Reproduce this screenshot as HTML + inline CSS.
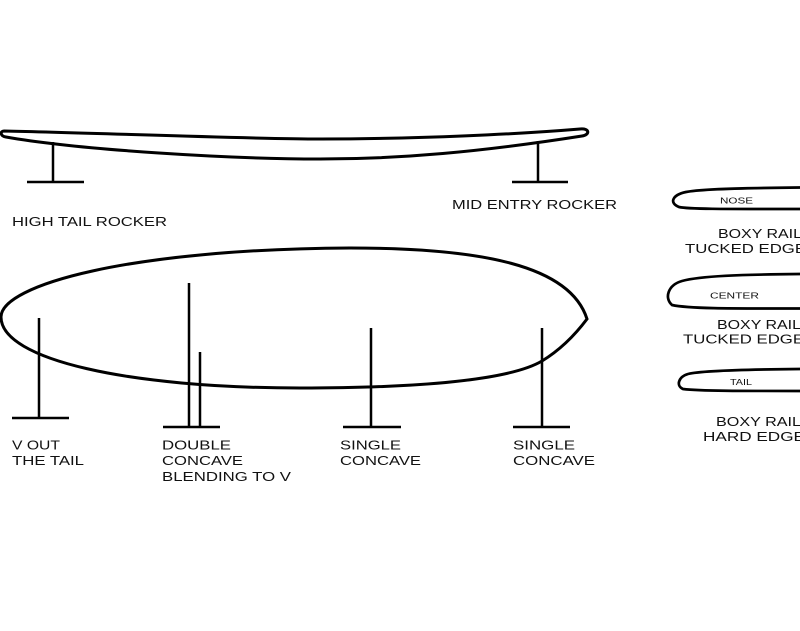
<!DOCTYPE html>
<html>
<head>
<meta charset="utf-8">
<style>
  html, body { margin: 0; padding: 0; background: #ffffff; }
  body { width: 800px; height: 631px; overflow: hidden; }
  svg { display: block; }
  text { font-family: "Liberation Sans", "DejaVu Sans", sans-serif; fill: #111; }
</style>
</head>
<body>
<svg width="800" height="631" viewBox="0 0 800 631" xmlns="http://www.w3.org/2000/svg">
  <rect x="0" y="0" width="800" height="631" fill="#ffffff"/>

  <!-- Rocker profile board -->
  <path d="M 4,131 C 100,133 250,139 320,139 C 420,139 520,134 580,129 C 590,128 590,135 582,136 C 480,152 400,159 320,159 C 230,159 80,150 6,137 C 0,136 0,131 4,131 Z"
        fill="none" stroke="#000" stroke-width="3" stroke-linejoin="round"/>
  <!-- stands -->
  <line x1="53" y1="142" x2="53" y2="182" stroke="#000" stroke-width="2.5"/>
  <line x1="27" y1="182" x2="84" y2="182" stroke="#000" stroke-width="2.5"/>
  <line x1="538" y1="141" x2="538" y2="182" stroke="#000" stroke-width="2.5"/>
  <line x1="512" y1="182" x2="568" y2="182" stroke="#000" stroke-width="2.5"/>

  <text x="12" y="226" font-size="12.5" textLength="155" lengthAdjust="spacingAndGlyphs">HIGH TAIL ROCKER</text>
  <text x="452" y="209" font-size="12.5" textLength="165" lengthAdjust="spacingAndGlyphs">MID ENTRY ROCKER</text>

  <!-- Bottom outline -->
  <path d="M 1,317 C 1,285 130,249 350,248 C 480,248 570,265 587,319 C 575,335 560,350 542,361 C 510,380 420,388 300,388 C 130,388 1,360 1,317 Z"
        fill="none" stroke="#000" stroke-width="3" stroke-linejoin="miter"/>

  <!-- V out the tail -->
  <line x1="39" y1="318" x2="39" y2="418" stroke="#000" stroke-width="2.5"/>
  <line x1="12" y1="418" x2="69" y2="418" stroke="#000" stroke-width="2.5"/>
  <!-- Double concave -->
  <line x1="189" y1="283" x2="189" y2="427" stroke="#000" stroke-width="2.5"/>
  <line x1="200" y1="352" x2="200" y2="427" stroke="#000" stroke-width="2.5"/>
  <line x1="163" y1="427" x2="220" y2="427" stroke="#000" stroke-width="2.5"/>
  <!-- Single concave 1 -->
  <line x1="371" y1="328" x2="371" y2="427" stroke="#000" stroke-width="2.5"/>
  <line x1="343" y1="427" x2="401" y2="427" stroke="#000" stroke-width="2.5"/>
  <!-- Single concave 2 -->
  <line x1="542" y1="328" x2="542" y2="427" stroke="#000" stroke-width="2.5"/>
  <line x1="513" y1="427" x2="570" y2="427" stroke="#000" stroke-width="2.5"/>

  <text x="12" y="449.5" font-size="12.5" textLength="48" lengthAdjust="spacingAndGlyphs">V OUT</text>
  <text x="12" y="465" font-size="12.5" textLength="72" lengthAdjust="spacingAndGlyphs">THE TAIL</text>

  <text x="162" y="449.5" font-size="12.5" textLength="69" lengthAdjust="spacingAndGlyphs">DOUBLE</text>
  <text x="162" y="465" font-size="12.5" textLength="81" lengthAdjust="spacingAndGlyphs">CONCAVE</text>
  <text x="162" y="481" font-size="12.5" textLength="129" lengthAdjust="spacingAndGlyphs">BLENDING TO V</text>

  <text x="340" y="449.5" font-size="12.5" textLength="61" lengthAdjust="spacingAndGlyphs">SINGLE</text>
  <text x="340" y="465" font-size="12.5" textLength="81" lengthAdjust="spacingAndGlyphs">CONCAVE</text>

  <text x="513" y="449.5" font-size="12.5" textLength="62" lengthAdjust="spacingAndGlyphs">SINGLE</text>
  <text x="513" y="465" font-size="12.5" textLength="82" lengthAdjust="spacingAndGlyphs">CONCAVE</text>

  <!-- Rail cross sections -->
  <path d="M 802,187.5 C 740,188 700,189 686,192 C 672,195 669,203 679,207 C 690,209.5 740,209 802,209"
        fill="none" stroke="#000" stroke-width="2.7" stroke-linejoin="round"/>
  <text x="720" y="203.5" font-size="8.3" textLength="33" lengthAdjust="spacingAndGlyphs">NOSE</text>
  <text x="718" y="238" font-size="12.5" textLength="84" lengthAdjust="spacingAndGlyphs">BOXY RAIL</text>
  <text x="685" y="253" font-size="12.5" textLength="121" lengthAdjust="spacingAndGlyphs">TUCKED EDGE</text>

  <path d="M 802,274 C 740,274.5 700,276 682,281 C 668,285 664,298 672,305 C 690,309 740,308.5 802,308.5"
        fill="none" stroke="#000" stroke-width="2.7" stroke-linejoin="round"/>
  <text x="710" y="298.5" font-size="8.3" textLength="49" lengthAdjust="spacingAndGlyphs">CENTER</text>
  <text x="717" y="329" font-size="12.5" textLength="84" lengthAdjust="spacingAndGlyphs">BOXY RAIL</text>
  <text x="683" y="343.5" font-size="12.5" textLength="121" lengthAdjust="spacingAndGlyphs">TUCKED EDGE</text>

  <path d="M 802,369 C 740,369.5 700,371 688,374 C 678,377 676,386 683,389 C 700,391 740,391 802,391"
        fill="none" stroke="#000" stroke-width="2.7" stroke-linejoin="round"/>
  <text x="730" y="385" font-size="8.3" textLength="22" lengthAdjust="spacingAndGlyphs">TAIL</text>
  <text x="716" y="426" font-size="12.5" textLength="85" lengthAdjust="spacingAndGlyphs">BOXY RAIL</text>
  <text x="703" y="441" font-size="12.5" textLength="102" lengthAdjust="spacingAndGlyphs">HARD EDGE</text>
</svg>
</body>
</html>
